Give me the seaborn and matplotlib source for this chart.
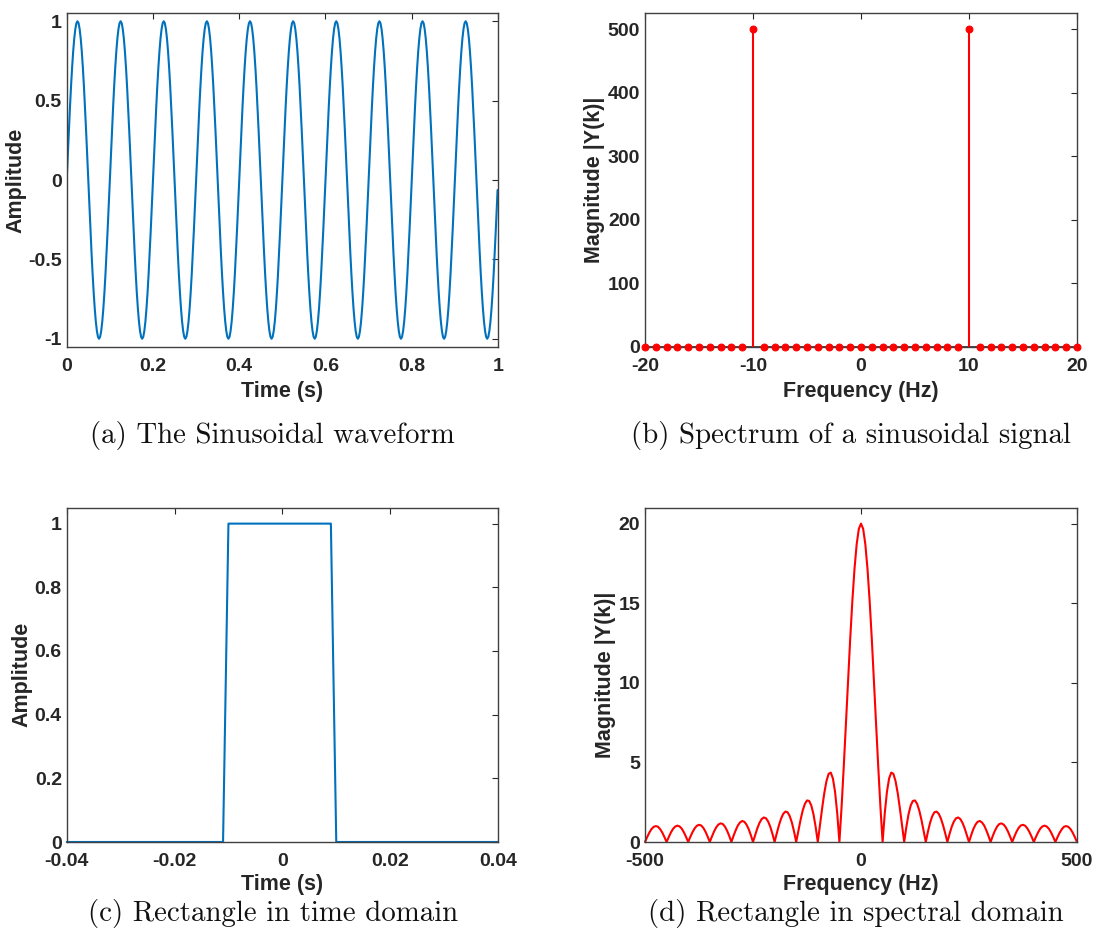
import numpy as np
import pandas as pd
import matplotlib
matplotlib.use("Agg")
import matplotlib.pyplot as plt
import seaborn as sns

# ---------------- data ----------------
# (a) sinusoid: one period sampled 40 times (read from the 10 identical cycles)
sine_cycle = [0.0, 0.156, 0.309, 0.454, 0.588, 0.707, 0.809, 0.891, 0.951, 0.988,
              1.0, 0.988, 0.951, 0.891, 0.809, 0.707, 0.588, 0.454, 0.309, 0.156,
              0.0, -0.156, -0.309, -0.454, -0.588, -0.707, -0.809, -0.891, -0.951, -0.988,
              -1.0, -0.988, -0.951, -0.891, -0.809, -0.707, -0.588, -0.454, -0.309, -0.156]
n_cycles = 10
sine_step = 0.0025         # s between samples
sine_end_t = 0.999         # last sample time
sine_end_v = -0.063        # last sample value

# (b) spectrum of sinusoid (stem)
spec_freq = list(range(-20, 21))
spec_mag = [0] * 10 + [500] + [0] * 19 + [500] + [0] * 10

# (c) rectangle in time domain
rect_t = [-0.04, -0.011, -0.010, 0.009, 0.010, 0.04]
rect_v = [0, 0, 1, 1, 0, 0]

# (d) rectangle spectrum magnitude, 0..500 Hz every 5 Hz (mirrored for negative f)
rect_spec_half = [20.0, 19.67, 18.71, 17.17, 15.15, 12.75, 10.11, 7.37, 4.69, 2.19,
                  0.0, 1.80, 3.14, 3.99, 4.36, 4.28, 3.82, 3.07, 2.11, 1.05,
                  0.0, 0.95, 1.74, 2.29, 2.58, 2.61, 2.39, 1.97, 1.38, 0.70,
                  0.0, 0.66, 1.22, 1.63, 1.87, 1.91, 1.77, 1.47, 1.05, 0.54,
                  0.0, 0.51, 0.96, 1.29, 1.49, 1.54, 1.44, 1.20, 0.86, 0.44,
                  0.0, 0.43, 0.81, 1.09, 1.27, 1.32, 1.23, 1.04, 0.74, 0.39,
                  0.0, 0.38, 0.71, 0.97, 1.13, 1.17, 1.10, 0.93, 0.67, 0.35,
                  0.0, 0.34, 0.65, 0.89, 1.04, 1.08, 1.02, 0.86, 0.62, 0.33,
                  0.0, 0.32, 0.61, 0.84, 0.98, 1.03, 0.97, 0.83, 0.60, 0.31,
                  0.0, 0.31, 0.59, 0.81, 0.96, 1.00, 0.95, 0.81, 0.59, 0.31,
                  0.0]
rect_spec_step = 5  # Hz

captions = ["(a) The Sinusoidal waveform", "(b) Spectrum of a sinusoidal signal",
            "(c) Rectangle in time domain", "(d) Rectangle in spectral domain"]

a_xticks = [0, 0.2, 0.4, 0.6, 0.8, 1]
a_xlabels = ["0", "0.2", "0.4", "0.6", "0.8", "1"]
a_yticks = [-1, -0.5, 0, 0.5, 1]
a_ylabels = ["-1", "-0.5", "0", "0.5", "1"]
b_xticks = [-20, -10, 0, 10, 20]
b_xlabels = ["-20", "-10", "0", "10", "20"]
b_yticks = [0, 100, 200, 300, 400, 500]
b_ylabels = ["0", "100", "200", "300", "400", "500"]
c_xticks = [-0.04, -0.02, 0, 0.02, 0.04]
c_xlabels = ["-0.04", "-0.02", "0", "0.02", "0.04"]
c_yticks = [0, 0.2, 0.4, 0.6, 0.8, 1]
c_ylabels = ["0", "0.2", "0.4", "0.6", "0.8", "1"]
d_xticks = [-500, 0, 500]
d_xlabels = ["-500", "0", "500"]
d_yticks = [0, 5, 10, 15, 20]
d_ylabels = ["0", "5", "10", "15", "20"]

# ---------------- build frames ----------------
sine_v = list(np.tile(sine_cycle, n_cycles)) + [sine_end_v]
sine_t = list(np.arange(len(sine_cycle) * n_cycles) * sine_step) + [sine_end_t]
df_a = pd.DataFrame({"t": sine_t, "v": sine_v})
df_b = pd.DataFrame({"f": spec_freq, "m": spec_mag})
df_c = pd.DataFrame({"t": rect_t, "v": rect_v})
full_mag = rect_spec_half[::-1] + rect_spec_half[1:]
n_half = len(rect_spec_half) - 1
full_f = list(np.arange(-n_half, n_half + 1) * rect_spec_step)
df_d = pd.DataFrame({"f": full_f, "m": full_mag})

# ---------------- style ----------------
sns.set_style("white")
plt.rcParams["font.family"] = ["Liberation Sans", "DejaVu Sans"]
plt.rcParams["axes.unicode_minus"] = False

TXT = "#262626"
BLUE = "#0072BD"
RED = "#FF0000"

W, H = 1096, 946
fig = plt.figure(figsize=(W / 100, H / 100), dpi=100)


def make_ax(left, top, right, bottom):
    return fig.add_axes([left / W, 1 - bottom / H, (right - left) / W, (bottom - top) / H])


ax_a = make_ax(66.7, 13.3, 498, 346.7)
ax_b = make_ax(645, 13.3, 1077, 346.7)
ax_c = make_ax(66.7, 507.7, 498, 842)
ax_d = make_ax(645, 507.7, 1077, 842)

LW = 1.5
sns.lineplot(data=df_a, x="t", y="v", ax=ax_a, color=BLUE, lw=LW,
             estimator=None, sort=False)
sns.lineplot(data=df_c, x="t", y="v", ax=ax_c, color=BLUE, lw=LW,
             estimator=None, sort=False, clip_on=False)
sns.lineplot(data=df_d, x="f", y="m", ax=ax_d, color=RED, lw=LW,
             estimator=None, sort=False, clip_on=False)

# stem plot
ax_b.hlines(0, min(spec_freq), max(spec_freq), color=TXT, lw=1.2, zorder=2, clip_on=False)
ax_b.vlines(df_b["f"], 0, df_b["m"], color=RED, lw=LW, zorder=3, clip_on=False)
sns.scatterplot(data=df_b, x="f", y="m", ax=ax_b, color=RED, s=24, marker="o",
                edgecolor=RED, linewidth=0.8, zorder=4, clip_on=False)


def style(ax, xlim, ylim, xt, xl, yt, yl, xlabel, ylabel, ylab_x, xlab_y):
    ax.set_xlim(*xlim)
    ax.set_ylim(*ylim)
    ax.set_xticks(xt)
    ax.set_xticklabels(xl)
    ax.set_yticks(yt)
    ax.set_yticklabels(yl)
    ax.tick_params(direction="in", length=4, width=0.8, color=TXT,
                   top=True, right=True, labelsize=14, labelcolor=TXT)
    ax.tick_params(axis="x", pad=8)
    ax.tick_params(axis="y", pad=3.5)
    for lab in ax.get_xticklabels() + ax.get_yticklabels():
        lab.set_fontweight("bold")
    for sp in ax.spines.values():
        sp.set_color("#404040")
        sp.set_linewidth(1.0)
        sp.set_visible(True)
    ax.set_xlabel(xlabel, fontsize=15.5, fontweight="bold", color=TXT)
    ax.set_ylabel(ylabel, fontsize=15.5, fontweight="bold", color=TXT)
    ax.xaxis.set_label_coords(0.5, xlab_y)
    ax.yaxis.set_label_coords(ylab_x, 0.5)
    ax.set_facecolor("white")


style(ax_a, (0, 1), (-1.05, 1.05), a_xticks, a_xlabels, a_yticks, a_ylabels,
      "Time (s)", "Amplitude", -0.094, -0.103)
style(ax_b, (-20, 20), (0, 525), b_xticks, b_xlabels, b_yticks, b_ylabels,
      "Frequency (Hz)", "Magnitude |Y(k)|", -0.0935, -0.103)
style(ax_c, (-0.04, 0.04), (0, 1.05), c_xticks, c_xlabels, c_yticks, c_ylabels,
      "Time (s)", "Amplitude", -0.080, -0.097)
style(ax_d, (-500, 500), (0, 21), d_xticks, d_xlabels, d_yticks, d_ylabels,
      "Frequency (Hz)", "Magnitude |Y(k)|", -0.066, -0.097)

cap_pos = [(272.5, 435), (851, 435), (273, 913), (855.5, 913)]
for txt, (cx, cy) in zip(captions, cap_pos):
    fig.text(cx / W, 1 - cy / H, txt, family="cmr10", fontsize=20.8,
             ha="center", va="center", color="#111111")

fig.savefig("out.png", dpi=100, facecolor="white")
